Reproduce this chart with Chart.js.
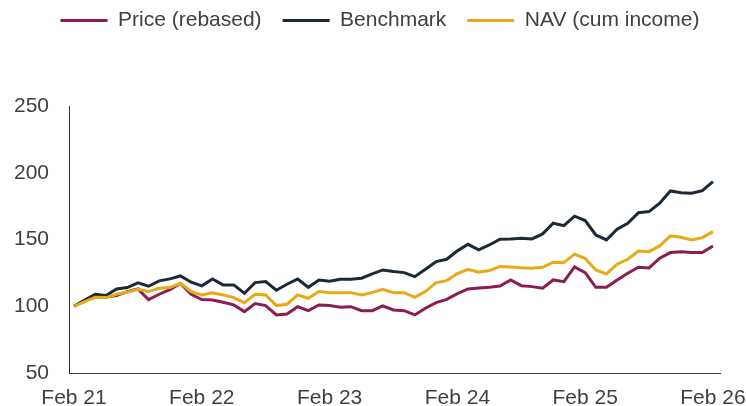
<!DOCTYPE html>
<html>
<head>
<meta charset="utf-8">
<script src="https://cdn.jsdelivr.net/npm/chart.js@4.4.1/dist/chart.umd.min.js"></script>
<style>
  html, body { margin: 0; padding: 0; background: #fff; }
  #wrap { width: 746px; height: 406px; }
</style>
</head>
<body>
<div id="wrap"><canvas id="chart"></canvas></div>
<script>
/***** Data (monthly, Feb 21 - Feb 26, rebased to 100) *****/
const tickLabels = ["Feb 21", "Feb 22", "Feb 23", "Feb 24", "Feb 25", "Feb 26"];
const tickMonths = [0, 12, 24, 36, 48, 60];

const price = [
  100, 104, 107, 107, 108, 111, 113, 105, 109, 112.5, 117, 109,
  105, 104.7, 103, 101, 96, 102, 100.5, 93.5, 94.2, 99.7, 96.7, 101,
  100.5, 99.2, 99.7, 96.7, 96.7, 100.2, 97.2, 96.7, 93.5, 98.5, 102.7, 105.2,
  109.5, 113, 113.7, 114.2, 115.2, 119.7, 115.4, 114.7, 113.5, 119.7, 118.4, 129.5,
  125.2, 114.2, 114.2, 119.7, 124.7, 129.2, 128.7, 136, 140.2, 140.9, 140.2, 140.2,
  145.2,
];

const benchmark = [
  100, 104.7, 109, 108, 113, 114, 117.5, 115, 119, 120.5, 122.7, 118,
  115.3, 120.5, 116, 116, 109.7, 117.7, 118.5, 112, 116.5, 120.4, 114.2, 119.7,
  118.8, 120.2, 120.2, 121, 124.2, 127.2, 126, 125.2, 122.2, 127.7, 133.4, 135.2,
  141.5, 146.4, 142.2, 145.9, 150.2, 150.4, 150.9, 150.4, 154.2, 162.2, 160.4, 167.5,
  164.2, 153.4, 149.7, 157.7, 162.2, 170.1, 170.9, 177.2, 186.4, 185.1, 184.6, 186.6,
  193.3,
];

const nav = [
  100, 103.5, 106.7, 106.5, 109, 110.5, 112.7, 111, 113.5, 114, 117.2, 111,
  108.5, 110, 108.5, 106.5, 102.7, 109, 108.5, 100.5, 101.5, 108.5, 106, 111,
  110.2, 110.2, 110.2, 108.5, 110.2, 112.7, 110.2, 110.2, 106.7, 111, 117.7, 119.2,
  124.5, 127.7, 125.5, 126.7, 129.7, 129.4, 128.9, 128.4, 129.2, 133, 132.7, 139,
  135.7, 127.2, 124.2, 131.5, 135.2, 141.4, 140.9, 145.2, 152.7, 151.7, 149.7, 151.4,
  155.9,
];

/***** Helpers *****/
// Turns a list of monthly values into {x, y} points for the linear x axis
const toPoints = (values) => values.map((v, i) => ({ x: i, y: v }));

// Adds space under the legend so the plot starts lower down
const legendGap = {
  id: "legendGap",
  beforeInit(chart) {
    const fitLegend = chart.legend.fit;
    chart.legend.fit = function () {
      fitLegend.call(this);
      this.height += 65;
    };
  },
};

const textColor = "#404040";
const font = { family: "'Liberation Sans', Arial, sans-serif", size: 21 };

/***** Chart *****/
new Chart(document.querySelector("#chart"), {
  type: "line",
  data: {
    datasets: [
      {
        label: "Price (rebased)",
        data: toPoints(price),
        borderColor: "#8c1d52",
        backgroundColor: "#8c1d52",
        order: 2,
      },
      {
        label: "Benchmark",
        data: toPoints(benchmark),
        borderColor: "#1c2a38",
        backgroundColor: "#1c2a38",
        order: 1,
      },
      {
        label: "NAV (cum income)",
        data: toPoints(nav),
        borderColor: "#e8a916",
        backgroundColor: "#e8a916",
        order: 0,
      },
    ],
  },
  options: {
    responsive: true,
    maintainAspectRatio: false,
    animation: false,
    layout: { padding: { top: -11, left: 14, right: 0, bottom: 0 } },
    elements: {
      line: { borderWidth: 3, tension: 0 },
      point: { radius: 0 },
    },
    plugins: {
      tooltip: { enabled: false },
      legend: {
        position: "top",
        reverse: true,
        labels: {
          boxWidth: 47,
          boxHeight: 0,
          padding: 21,
          color: textColor,
          font: font,
        },
      },
    },
    scales: {
      x: {
        type: "linear",
        min: -0.47,
        max: 60.66,
        afterBuildTicks: (scale) => {
          scale.ticks = tickMonths.map((v) => ({ value: v }));
        },
        // keep the plot bottom at y=373 and its right edge at x=720
        afterFit: (scale) => {
          scale.height = 33;
          scale.paddingRight = 26;
        },
        grid: { display: false, drawTicks: false },
        border: { display: true, color: "#333", width: 1 },
        ticks: {
          autoSkip: false,
          maxRotation: 0,
          padding: 15,
          color: textColor,
          font: { ...font, lineHeight: 1 },
          callback: (value) => tickLabels[tickMonths.indexOf(value)],
        },
      },
      y: {
        min: 50,
        max: 250,
        // labels 35px wide + 20px gap to the axis line
        afterFit: (scale) => {
          scale.width = 55;
        },
        grid: { display: false, drawTicks: false },
        border: { display: true, color: "#333", width: 1 },
        ticks: {
          stepSize: 50,
          padding: 20,
          color: textColor,
          font: font,
        },
      },
    },
  },
  plugins: [legendGap],
});
</script>
</body>
</html>
